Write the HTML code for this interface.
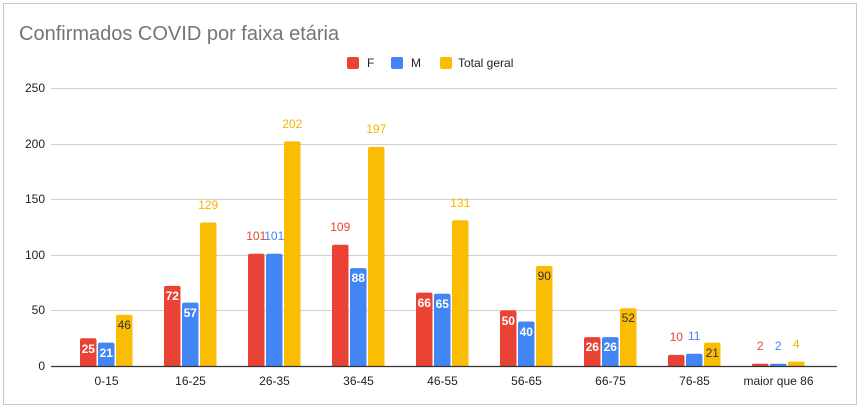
<!DOCTYPE html>
<html><head><meta charset="utf-8"><style>
body{margin:0;background:#fff;}
svg{display:block;font-family:"Liberation Sans",Arial,sans-serif;}
</style></head><body>
<svg width="861" height="409" viewBox="0 0 861 409" xmlns="http://www.w3.org/2000/svg">
<rect x="0" y="0" width="861" height="409" fill="#fff"/>
<rect x="3.5" y="3.5" width="853" height="401" fill="none" stroke="#c8c8c8"/>
<text x="19" y="40" font-size="20" fill="#757575">Confirmados COVID por faixa etária</text>
<rect x="347" y="57" width="12" height="12" rx="2" fill="#ea4335"/>
<text x="367" y="67" font-size="12" fill="#222">F</text>
<rect x="391" y="57" width="12" height="12" rx="2" fill="#4285f4"/>
<text x="411" y="67" font-size="12" fill="#222">M</text>
<rect x="440" y="57" width="12" height="12" rx="2" fill="#fbbc04"/>
<text x="458" y="67" font-size="12" fill="#222">Total geral</text>
<g stroke="#d0d0d0" stroke-width="1">
<line x1="51" y1="88.5" x2="837" y2="88.5"/>
<line x1="51" y1="144.5" x2="837" y2="144.5"/>
<line x1="51" y1="199.5" x2="837" y2="199.5"/>
<line x1="51" y1="255.5" x2="837" y2="255.5"/>
<line x1="51" y1="310.5" x2="837" y2="310.5"/>
</g>
<g>
<rect x="80" y="338.2" width="16.5" height="30" rx="2" fill="#ea4335"/>
<rect x="98" y="342.6" width="16.5" height="26" rx="2" fill="#4285f4"/>
<rect x="116" y="314.8" width="16.5" height="54" rx="2" fill="#fbbc04"/>
<rect x="164" y="285.9" width="16.5" height="83" rx="2" fill="#ea4335"/>
<rect x="182" y="302.6" width="16.5" height="66" rx="2" fill="#4285f4"/>
<rect x="200" y="222.5" width="16.5" height="146" rx="2" fill="#fbbc04"/>
<rect x="248" y="253.7" width="16.5" height="115" rx="2" fill="#ea4335"/>
<rect x="266" y="253.7" width="16.5" height="115" rx="2" fill="#4285f4"/>
<rect x="284" y="141.4" width="16.5" height="227" rx="2" fill="#fbbc04"/>
<rect x="332" y="244.8" width="16.5" height="124" rx="2" fill="#ea4335"/>
<rect x="350" y="268.1" width="16.5" height="100" rx="2" fill="#4285f4"/>
<rect x="368" y="146.9" width="16.5" height="222" rx="2" fill="#fbbc04"/>
<rect x="416" y="292.6" width="16.5" height="76" rx="2" fill="#ea4335"/>
<rect x="434" y="293.7" width="16.5" height="75" rx="2" fill="#4285f4"/>
<rect x="452" y="220.3" width="16.5" height="148" rx="2" fill="#fbbc04"/>
<rect x="500" y="310.4" width="16.5" height="58" rx="2" fill="#ea4335"/>
<rect x="518" y="321.5" width="16.5" height="47" rx="2" fill="#4285f4"/>
<rect x="536" y="265.9" width="16.5" height="103" rx="2" fill="#fbbc04"/>
<rect x="584" y="337.1" width="16.5" height="31" rx="2" fill="#ea4335"/>
<rect x="602" y="337.1" width="16.5" height="31" rx="2" fill="#4285f4"/>
<rect x="620" y="308.2" width="16.5" height="60" rx="2" fill="#fbbc04"/>
<rect x="668" y="354.9" width="16.5" height="13" rx="2" fill="#ea4335"/>
<rect x="686" y="353.8" width="16.5" height="14" rx="2" fill="#4285f4"/>
<rect x="704" y="342.6" width="16.5" height="26" rx="2" fill="#fbbc04"/>
<rect x="752" y="363.8" width="16.5" height="4" rx="1" fill="#ea4335"/>
<rect x="770" y="363.8" width="16.5" height="4" rx="1" fill="#4285f4"/>
<rect x="788" y="361.6" width="16.5" height="6" rx="1" fill="#fbbc04"/>
</g>
<rect x="51" y="367" width="790" height="4" fill="#fff"/>
<line x1="51" y1="366.5" x2="837" y2="366.5" stroke="#333" stroke-width="1.2"/>
<g font-size="12" fill="#222" text-anchor="end">
<text x="45" y="92">250</text><text x="45" y="148">200</text><text x="45" y="203">150</text>
<text x="45" y="259">100</text><text x="45" y="314">50</text><text x="45" y="370">0</text>
</g>
<g font-size="12" font-weight="bold" text-anchor="middle" fill="#fff">
<text x="88.25" y="353">25</text><text x="106.25" y="357">21</text>
<text x="172.25" y="300">72</text><text x="190.25" y="317">57</text>
<text x="358.25" y="282">88</text>
<text x="424.25" y="307">66</text><text x="442.25" y="308">65</text>
<text x="508.25" y="325">50</text><text x="526.25" y="336">40</text>
<text x="592.25" y="351">26</text><text x="610.25" y="351">26</text>
</g>
<g font-size="12" text-anchor="middle" fill="#333">
<text x="124.25" y="329">46</text><text x="544.25" y="280">90</text>
<text x="628.25" y="322">52</text><text x="712.25" y="357">21</text>
</g>
<g font-size="12" text-anchor="middle">
<text x="208.25" y="209" fill="#f4b400">129</text>
<text x="256.25" y="240" fill="#ea4335">101</text><text x="274.25" y="240" fill="#4285f4">101</text>
<text x="292.25" y="128" fill="#f4b400">202</text>
<text x="340.25" y="231" fill="#ea4335">109</text>
<text x="376.25" y="133" fill="#f4b400">197</text>
<text x="460.25" y="207" fill="#f4b400">131</text>
<text x="676.25" y="341" fill="#ea4335">10</text><text x="694.25" y="340" fill="#4285f4">11</text>
<text x="760.25" y="350" fill="#ea4335">2</text><text x="778.25" y="350" fill="#4285f4">2</text>
<text x="796.25" y="348" fill="#f4b400">4</text>
</g>
<g font-size="12" text-anchor="middle" fill="#222">
<text x="106.5" y="385">0-15</text><text x="190.5" y="385">16-25</text><text x="274.5" y="385">26-35</text>
<text x="358.5" y="385">36-45</text><text x="442.5" y="385">46-55</text><text x="526.5" y="385">56-65</text>
<text x="610.5" y="385">66-75</text><text x="694.5" y="385">76-85</text><text x="778.5" y="385">maior que 86</text>
</g>
</svg>
</body></html>
